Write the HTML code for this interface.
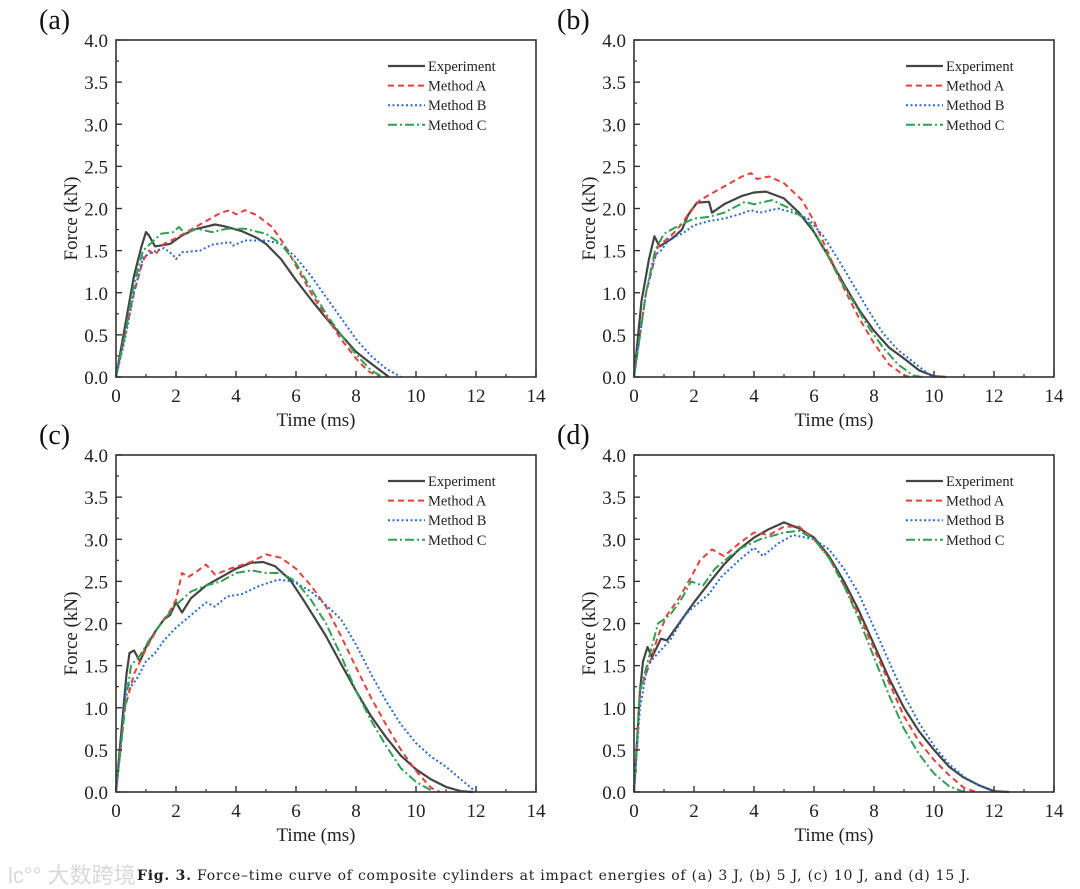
<!DOCTYPE html>
<html><head><meta charset="utf-8"><style>
html,body{margin:0;padding:0;background:#fff;}
svg{display:block;font-family:"Liberation Serif",serif;}
</style></head><body>
<svg id="fig" width="1080" height="889" viewBox="0 0 1080 889">
<g fill="#d8d8d8" font-family="'Liberation Sans','Noto Sans CJK SC',sans-serif">
<text x="8" y="883" font-size="22">lc°° 大数跨境</text>
</g>
<text x="137" y="880" font-size="14" fill="#222" textLength="833" lengthAdjust="spacing" font-family="'DejaVu Serif',serif"><tspan font-weight="bold">Fig. 3.</tspan>  Force–time curve of composite cylinders at impact energies of (a) 3 J, (b) 5 J, (c) 10 J, and (d) 15 J.</text>
</svg>
<script>
// ---- data (time ms, force kN) ----
const panelLabels = ['(a)','(b)','(c)','(d)'];
const seriesNames = ['Experiment','Method A','Method B','Method C'];
const xTicks = [0,2,4,6,8,10,12,14];
const yTicks = [0.0,0.5,1.0,1.5,2.0,2.5,3.0,3.5,4.0];

const expA = [[0,0],[0.3,0.6],[0.6,1.2],[0.85,1.55],[1.0,1.72],[1.1,1.68],[1.3,1.55],[1.8,1.58],[2.2,1.68],[2.6,1.75],[3.3,1.81],[3.6,1.79],[4.2,1.73],[4.7,1.65],[5.0,1.58],[5.5,1.40],[6.0,1.15],[6.5,0.92],[7.0,0.70],[7.5,0.50],[8.0,0.30],[8.5,0.16],[9.1,0]];
const mAA = [[0,0],[0.3,0.5],[0.6,1.0],[0.9,1.38],[1.1,1.5],[1.3,1.45],[1.6,1.58],[2.0,1.65],[2.5,1.75],[3.0,1.85],[3.5,1.95],[3.8,1.98],[4.0,1.93],[4.3,1.98],[4.7,1.92],[5.2,1.78],[5.6,1.58],[6.0,1.32],[6.5,1.0],[7.0,0.72],[7.5,0.45],[8.0,0.22],[8.4,0.07],[8.8,0]];
const mBA = [[0,0],[0.3,0.45],[0.6,1.0],[0.9,1.42],[1.2,1.48],[1.6,1.53],[1.9,1.45],[2.0,1.40],[2.2,1.48],[2.8,1.50],[3.2,1.57],[3.8,1.60],[3.9,1.56],[4.3,1.62],[5.0,1.62],[5.5,1.58],[6.0,1.42],[6.5,1.2],[7.0,0.95],[7.5,0.7],[8.0,0.45],[8.5,0.25],[9.0,0.1],[9.5,0]];
const mCA = [[0,0],[0.3,0.5],[0.6,1.1],[0.9,1.5],[1.2,1.6],[1.5,1.70],[1.9,1.72],[2.1,1.78],[2.3,1.70],[2.7,1.76],[3.2,1.72],[3.7,1.76],[4.3,1.76],[5.0,1.70],[5.5,1.58],[6.0,1.35],[6.5,1.05],[7.0,0.75],[7.5,0.5],[8.0,0.27],[8.5,0.08],[8.9,0]];

const expB = [[0,0],[0.25,0.9],[0.5,1.4],[0.68,1.67],[0.85,1.55],[1.3,1.65],[1.6,1.75],[1.8,1.92],[2.1,2.07],[2.5,2.08],[2.6,1.95],[3.0,2.05],[3.6,2.15],[4.0,2.19],[4.4,2.2],[5.0,2.12],[5.5,1.95],[6.0,1.72],[6.5,1.42],[7.0,1.1],[7.5,0.8],[8.0,0.55],[8.5,0.35],[9.0,0.22],[9.5,0.08],[10.0,0.01],[10.4,0]];
const mAB = [[0,0],[0.4,1.0],[0.8,1.55],[1.3,1.7],[1.6,1.82],[1.9,1.98],[2.2,2.1],[2.7,2.2],[3.2,2.3],[3.6,2.38],[3.9,2.42],[4.1,2.35],[4.5,2.38],[5.0,2.3],[5.6,2.1],[6.0,1.85],[6.5,1.45],[7.0,1.05],[7.5,0.7],[8.0,0.4],[8.5,0.15],[9.0,0.02],[9.2,0]];
const mBB = [[0,0],[0.4,1.0],[0.7,1.45],[0.9,1.5],[1.2,1.65],[1.6,1.7],[2.0,1.8],[2.5,1.85],[3.0,1.88],[3.5,1.93],[3.9,1.98],[4.2,1.95],[4.8,2.0],[5.3,1.95],[5.8,1.88],[6.3,1.68],[6.8,1.4],[7.3,1.1],[7.8,0.8],[8.3,0.52],[8.8,0.32],[9.3,0.18],[9.8,0.04],[10.1,0]];
const mCB = [[0,0],[0.4,1.0],[0.7,1.5],[1.0,1.7],[1.5,1.8],[2.0,1.88],[2.5,1.9],[3.0,1.95],[3.7,2.08],[4.0,2.05],[4.6,2.1],[5.2,2.0],[5.8,1.85],[6.3,1.55],[6.8,1.2],[7.3,0.9],[7.8,0.6],[8.3,0.35],[8.8,0.15],[9.3,0.02],[9.6,0]];

const expC = [[0,0],[0.2,0.8],[0.35,1.4],[0.45,1.65],[0.6,1.68],[0.8,1.55],[1.0,1.72],[1.3,1.9],[1.6,2.05],[1.8,2.1],[2.0,2.25],[2.2,2.13],[2.5,2.3],[3.0,2.45],[3.5,2.55],[4.0,2.65],[4.5,2.72],[4.9,2.73],[5.3,2.68],[5.8,2.52],[6.3,2.25],[7.0,1.85],[7.5,1.52],[8.0,1.2],[8.5,0.9],[9.0,0.65],[9.5,0.43],[10.0,0.27],[10.5,0.15],[11.0,0.06],[11.5,0.01],[11.9,0]];
const mAC = [[0,0],[0.3,1.0],[0.6,1.4],[1.0,1.7],[1.4,1.95],[1.8,2.15],[2.0,2.28],[2.2,2.6],[2.4,2.55],[2.7,2.62],[3.0,2.7],[3.3,2.58],[3.8,2.65],[4.5,2.73],[5.0,2.82],[5.5,2.78],[6.0,2.65],[6.5,2.45],[7.0,2.2],[7.5,1.85],[8.0,1.48],[8.5,1.12],[9.0,0.8],[9.5,0.5],[10.0,0.25],[10.5,0.05],[10.8,0]];
const mBC = [[0,0],[0.2,0.7],[0.35,1.3],[0.5,1.25],[0.7,1.35],[1.0,1.55],[1.3,1.65],[1.6,1.8],[2.0,1.95],[2.5,2.1],[3.0,2.25],[3.3,2.2],[3.7,2.32],[4.2,2.35],[4.8,2.45],[5.4,2.52],[5.9,2.5],[6.5,2.38],[7.0,2.22],[7.5,2.05],[8.0,1.75],[8.5,1.4],[9.0,1.08],[9.5,0.8],[10.0,0.58],[10.5,0.42],[11.0,0.3],[11.5,0.15],[12.0,0]];
const mCC = [[0,0],[0.3,1.0],[0.5,1.5],[0.8,1.62],[1.1,1.8],[1.5,2.0],[2.0,2.22],[2.5,2.38],[3.0,2.45],[3.5,2.5],[4.0,2.6],[4.5,2.63],[5.0,2.6],[5.5,2.6],[6.0,2.5],[6.5,2.28],[7.0,2.0],[7.5,1.62],[8.0,1.2],[8.5,0.85],[9.0,0.55],[9.5,0.28],[10.0,0.12],[10.6,0]];

const expD = [[0,0],[0.1,0.6],[0.2,1.2],[0.3,1.55],[0.45,1.72],[0.6,1.6],[0.9,1.82],[1.1,1.8],[1.5,2.0],[2.0,2.25],[2.5,2.48],[3.0,2.7],[3.5,2.88],[4.0,3.02],[4.5,3.12],[5.0,3.2],[5.5,3.13],[6.0,3.02],[6.5,2.8],[7.0,2.5],[7.5,2.15],[8.0,1.75],[8.5,1.35],[9.0,1.0],[9.5,0.72],[10.0,0.5],[10.5,0.3],[11.0,0.17],[11.5,0.08],[12.0,0.01],[12.5,0]];
const mAD = [[0,0],[0.2,1.2],[0.5,1.5],[0.8,1.85],[1.1,2.1],[1.5,2.3],[1.9,2.55],[2.2,2.75],[2.6,2.88],[3.0,2.8],[3.5,2.95],[4.0,3.08],[4.5,3.05],[5.0,3.15],[5.5,3.15],[6.0,3.0],[6.5,2.78],[7.0,2.45],[7.5,2.1],[8.0,1.7],[8.5,1.3],[9.0,0.9],[9.5,0.6],[10.0,0.38],[10.5,0.2],[11.0,0.05],[11.4,0]];
const mBD = [[0,0],[0.2,1.0],[0.45,1.5],[0.8,1.65],[1.2,1.8],[1.7,2.1],[2.0,2.2],[2.5,2.35],[2.9,2.55],[3.5,2.75],[4.0,2.9],[4.3,2.8],[4.8,2.95],[5.3,3.05],[6.0,3.0],[6.5,2.88],[7.0,2.65],[7.5,2.35],[8.0,1.95],[8.5,1.55],[9.0,1.15],[9.5,0.82],[10.0,0.55],[10.5,0.33],[11.0,0.18],[11.5,0.08],[12.0,0.01],[12.5,0]];
const mCD = [[0,0],[0.2,1.2],[0.5,1.6],[0.8,2.0],[1.2,2.1],[1.6,2.3],[1.9,2.5],[2.3,2.45],[2.7,2.65],[3.2,2.8],[3.6,2.9],[4.2,3.0],[5.0,3.08],[5.5,3.1],[6.0,3.0],[6.5,2.78],[7.0,2.45],[7.5,2.05],[8.0,1.6],[8.5,1.15],[9.0,0.75],[9.5,0.45],[10.0,0.22],[10.5,0.07],[11.0,0]];

const panelSeries = [[expA,mAA,mBA,mCA],[expB,mAB,mBB,mCB],[expC,mAC,mBC,mCC],[expD,mAD,mBD,mCD]];

// ---- drawing ----
const NS='http://www.w3.org/2000/svg';
const svg=document.getElementById('fig');
function mk(tag,attrs,parent){const e=document.createElementNS(NS,tag);for(const k in attrs)e.setAttribute(k,attrs[k]);parent.appendChild(e);return e;}
const styles=[
 {stroke:'#444',w:2.2,dash:''},
 {stroke:'#e8403a',w:2,dash:'6,4'},
 {stroke:'#2a6ad8',w:2,dash:'2,2.5'},
 {stroke:'#2ea052',w:2,dash:'9,3,2,3'}
];
const origins=[[116,40],[634,40],[116,455],[634,455]];
const PW=420, PH=337;
origins.forEach((o,pi)=>{
  const [L,T]=o;
  const g=mk('g',{},svg);
  
  
  const xs=t=>L+t/14*PW;
  const ys=f=>T+PH-f/4*PH;
  const lab=mk('text',{x:L-77,y:T-11,'font-size':28,fill:'#111'},g);
  lab.textContent=panelLabels[pi];
  
  
  panelSeries[pi].forEach((data,si)=>{
    const s=styles[si];
    const d=data.map((p,i)=>(i?'L':'M')+xs(p[0]).toFixed(1)+','+ys(p[1]).toFixed(1)).join(' ');
    const p=mk('path',{d:d,fill:'none',stroke:s.stroke,'stroke-width':s.w,'stroke-dasharray':s.dash,'stroke-linejoin':'round'},g);
    
    
  });
  const box=mk('rect',{x:L,y:T,width:PW,height:PH,fill:'none',stroke:'#333','stroke-width':1.6},g);
  
  
  xTicks.forEach((t,i)=>{
    mk('line',{x1:xs(t),x2:xs(t),y1:T+PH,y2:T+PH-6,stroke:'#333','stroke-width':1.4},g);
    if(i<xTicks.length-1) mk('line',{x1:xs(t+1),x2:xs(t+1),y1:T+PH,y2:T+PH-3,stroke:'#333','stroke-width':1.2},g);
    const tx=mk('text',{x:xs(t),y:T+PH+25,'font-size':19,'text-anchor':'middle',fill:'#222'},g);
    tx.textContent=t;
    
    
  });
  yTicks.forEach((f,i)=>{
    mk('line',{x1:L,x2:L+6,y1:ys(f),y2:ys(f),stroke:'#333','stroke-width':1.4},g);
    if(i<yTicks.length-1) mk('line',{x1:L,x2:L+3,y1:ys(f+0.25),y2:ys(f+0.25),stroke:'#333','stroke-width':1.2},g);
    const ty=mk('text',{x:L-8,y:ys(f)+7,'font-size':19,'text-anchor':'end',fill:'#222'},g);
    ty.textContent=f.toFixed(1);
    
    
  });
  const xt=mk('text',{x:L+PW/2-10,y:T+PH+49,'font-size':19,'text-anchor':'middle',fill:'#222'},g);
  xt.textContent='Time (ms)';
  
  
  const cy=T+PH/2+10;
  const yt=mk('text',{x:L-39,y:cy,'font-size':19,'text-anchor':'middle',fill:'#222',transform:'rotate(-90 '+(L-39)+' '+cy+')'},g);
  yt.textContent='Force (kN)';
  
  
  seriesNames.forEach((n,si)=>{
    const s=styles[si];
    const ly=T+26+si*19.6;
    const ln=mk('line',{x1:L+272,x2:L+309,y1:ly,y2:ly,stroke:s.stroke,'stroke-width':s.w,'stroke-dasharray':s.dash},g);
    
    
    const lt=mk('text',{x:L+312,y:ly+5,'font-size':14.5,fill:'#222'},g);
    lt.textContent=n;
    
    
  });
});
</script>
</body></html>
